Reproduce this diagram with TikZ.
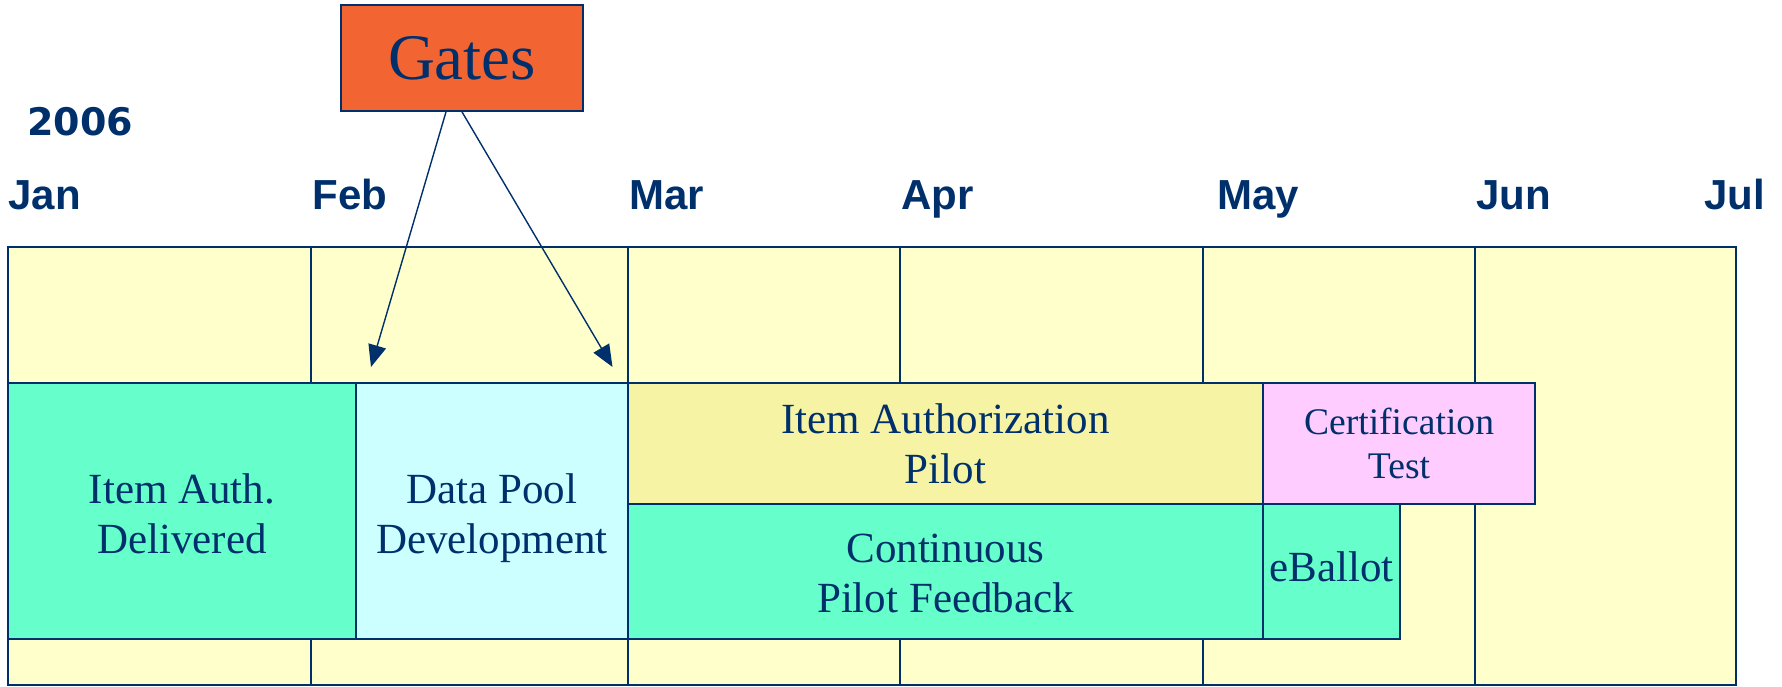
\documentclass[tikz,border=0pt]{standalone}
\usepackage{fontspec}
\setmainfont{Liberation Serif}
\newfontfamily\monthfont{Liberation Sans}
\newfontfamily\yearfont{DejaVu Sans}
\usetikzlibrary{arrows.meta}
\definecolor{navy}{HTML}{00306C}
\definecolor{paleyellow}{HTML}{FFFFCC}
\definecolor{aqua}{HTML}{66FFCC}
\definecolor{lightcyan}{HTML}{CCFFFF}
\definecolor{pilotyellow}{HTML}{F6F3A5}
\definecolor{pinkish}{HTML}{FFCCFF}
\definecolor{gateorange}{HTML}{F26533}
\tikzset{
  gridline/.style={draw=navy, line width=0.8pt},
  taskbox/.style={draw=navy, line width=0.9pt, inner sep=0pt, align=center, text=navy,
    font=\fontsize{21.5}{25}\selectfont},
  tasktext/.style={inner sep=0pt, align=center, text=navy, font=\fontsize{21.5}{25}\selectfont},
  monthlbl/.style={anchor=base west, inner sep=0pt, text=navy, font=\monthfont\bfseries\fontsize{21}{25}\selectfont},
  gatearrow/.style={draw=navy, line width=0.7pt, -{Triangle[length=11pt,width=9pt]}}
}
\begin{document}
\begin{tikzpicture}[x=0.5pt,y=-0.5pt]
\useasboundingbox (0,0) rectangle (1782,686);
% background grid
\path[gridline, fill=paleyellow] (8,247) rectangle (1736,685);
\foreach \xx in {311,628,900,1203,1475} {\draw[gridline] (\xx,247) -- (\xx,685);}
\draw[gridline] (8,383) -- (1263,383);
\draw[gridline] (8,639) -- (1400,639);
% year and months
\node[monthlbl, font=\yearfont\bfseries\fontsize{19}{23}\selectfont] (year) at (27,135) {2006};
\node[monthlbl] (jan) at (8,209) {Jan};
\node[monthlbl] (feb) at (312,209) {Feb};
\node[monthlbl] (mar) at (629,209) {Mar};
\node[monthlbl] (apr) at (901,209) {Apr};
\node[monthlbl] (may) at (1217,209) {May};
\node[monthlbl] (jun) at (1476,209) {Jun};
\node[monthlbl] (jul) at (1704,209) {Jul};
% task boxes
\node[taskbox, fill=aqua, minimum width=174pt, minimum height=128pt] (del) at (182,511) {};
\node[tasktext] at ([yshift=-3.5pt]del.center) {\strut Item Auth.\\Delivered\strut};
\node[taskbox, fill=lightcyan, minimum width=136pt, minimum height=128pt] (pool) at (492,511) {};
\node[tasktext] at ([yshift=-3.5pt]pool.center) {\strut Data Pool\\Development\strut};
\node[taskbox, fill=pilotyellow, minimum width=317.5pt, minimum height=60.5pt] (iap) at (945.5,443.5) {};
\node[tasktext] at ([yshift=-2.5pt]iap.center) {\strut Item Authorization\\Pilot\strut};
\node[taskbox, fill=pinkish, minimum width=136pt, minimum height=60.5pt] (cert) at (1399,443.5) {};
\node[tasktext, font=\fontsize{18.8}{22}\selectfont] at ([yshift=-2pt]cert.center) {\strut Certification\\Test\strut};
\node[taskbox, fill=aqua, minimum width=317.5pt, minimum height=67.5pt] (cpf) at (945.5,571.5) {};
\node[tasktext] at ([yshift=-3pt]cpf.center) {\strut Continuous\\Pilot Feedback\strut};
\node[taskbox, fill=aqua, minimum width=68.5pt, minimum height=67.5pt] (eb) at (1331.5,571.5) {};
\node[tasktext] at (eb.center) {\strut eBallot};
% gates
\node[taskbox, fill=gateorange, minimum width=121pt, minimum height=53pt, font=\fontsize{32.5}{36}\selectfont] (gates) at (462,58) {Gates};
\coordinate (t1) at (371,367);
\coordinate (t2) at (612.5,367);
\draw[gatearrow] ([xshift=-8pt]gates.south) -- (t1);
\draw[gatearrow] (gates.south) -- (t2);
\end{tikzpicture}
\end{document}
